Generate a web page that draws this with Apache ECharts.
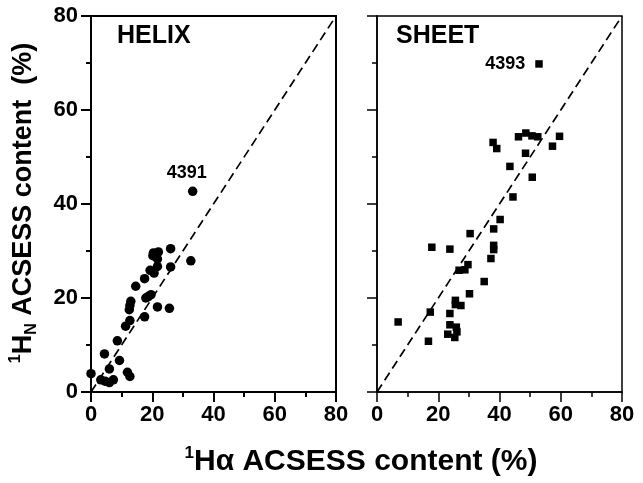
<!DOCTYPE html>
<html>
<head>
<meta charset="utf-8">
<script src="https://cdn.jsdelivr.net/npm/echarts@6/dist/echarts.min.js"></script>
<style>html,body{margin:0;padding:0;background:#fff}#c{width:643px;height:483px}</style>
</head>
<body>
<div id="c"></div>
<script>
// ---- data ----
const panelTitles = ['HELIX', 'SHEET'];
const tickLabels = [0, 20, 40, 60, 80];
const helixPoints = [
  [0,3.9],[4.4,8.1],[3.2,2.6],[4.6,2.3],[6.0,2.0],[7.3,2.6],[6.0,4.9],[9.3,6.7],
  [8.6,10.9],[11.9,4.2],[12.7,3.3],[11.3,14.0],[12.7,15.2],[12.5,17.5],[12.7,18.4],
  [13.0,19.3],[14.6,22.5],[17.5,24.1],[17.5,16.0],[17.9,20.0],[18.7,20.3],[19.6,20.7],
  [19.3,25.9],[20.6,25.3],[21.7,26.7],[21.7,28.3],[20.4,29.6],[20.2,29.0],[22.0,29.8],
  [21.7,18.1],[25.6,17.8],[26.0,30.5],[26.0,26.6],[32.6,27.9]
];
const helixOutlier = [33.2, 42.7];
const helixOutlierLabel = '4391';
const sheetPoints = [
  [37.9,53.1],[39.1,51.8],[46.2,54.3],[48.6,55.1],[50.6,54.5],[52.5,54.3],[57.3,52.3],
  [59.6,54.4],[48.5,50.8],[43.4,48.0],[50.7,45.7],[44.4,41.5],[40.2,36.7],[38.1,34.7],
  [30.4,33.7],[38.1,31.2],[38.1,30.3],[37.2,28.4],[17.9,30.8],[23.8,30.4],[29.7,27.1],
  [28.7,26.0],[26.8,25.9],[35.0,23.5],[30.2,20.9],[25.6,19.5],[25.6,18.6],[27.4,18.4],
  [17.4,17.0],[23.8,16.7],[6.9,14.9],[23.8,14.3],[25.9,13.8],[23.1,12.3],[26.1,12.8],
  [25.4,11.6],[16.8,10.8]
];
const sheetOutlier = [52.9, 69.8];
const sheetOutlierLabel = '4393';
const identityLine = [[0,0],[80,80]];

// ---- chart ----
const FONT = "'Liberation Sans', Arial, Helvetica, sans-serif";
const chart = echarts.init(document.getElementById('c'), null, {renderer: 'canvas'});

function xAxis(idx, lw) {
  return {
    type: 'value', gridIndex: idx, min: 0, max: 80, interval: 20,
    axisLine: {show: true, onZero: false, lineStyle: {color: '#000', width: lw}},
    axisTick: {show: true, inside: false, length: 10, lineStyle: {color: '#000', width: lw}},
    minorTick: {show: true, splitNumber: 2, length: 5, lineStyle: {color: '#000', width: lw}},
    splitLine: {show: false}, minorSplitLine: {show: false},
    axisLabel: {show: true, margin: 12, color: '#000', fontSize: 22, fontWeight: 'bold', fontFamily: FONT,
      formatter: v => tickLabels.includes(v) ? String(v) : ''}
  };
}
function yAxis(idx, lw, showLabels) {
  return {
    type: 'value', gridIndex: idx, min: 0, max: 80, interval: 20,
    axisLine: {show: true, onZero: false, lineStyle: {color: '#000', width: lw}},
    axisTick: {show: true, inside: false, length: 10, lineStyle: {color: '#000', width: lw}},
    minorTick: {show: true, splitNumber: 2, length: 5, lineStyle: {color: '#000', width: lw}},
    splitLine: {show: false}, minorSplitLine: {show: false},
    axisLabel: {show: showLabels, margin: 13, color: '#000', fontSize: 22, fontWeight: 'bold', fontFamily: FONT,
      formatter: v => tickLabels.includes(v) ? String(v) : ''}
  };
}

const option = {
  backgroundColor: '#fff',
  animation: false,
  grid: [
    {left: 91, top: 16, width: 245, height: 376, show: true, borderColor: '#000', borderWidth: 2, backgroundColor: 'transparent'},
    {left: 377, top: 16, width: 245, height: 376, show: true, borderColor: '#000', borderWidth: 1.5, backgroundColor: 'transparent'}
  ],
  xAxis: [xAxis(0, 2), xAxis(1, 1.5)],
  yAxis: [yAxis(0, 2, true), yAxis(1, 1.5, false)],
  graphic: [
    {type: 'text', left: 117, top: 24, style: {text: panelTitles[0], font: 'bold 25px ' + FONT, fill: '#000'}},
    {type: 'text', left: 396, top: 24, style: {text: panelTitles[1], font: 'bold 25px ' + FONT, fill: '#000'}},
    {type: 'text', x: 361, y: 462, style: {
      text: '{sup|1}{b|H\u03b1 ACSESS content (%)}',
      align: 'center', verticalAlign: 'middle',
      rich: {
        b: {fontSize: 30, fontWeight: 'bold', fontFamily: FONT, fill: '#000', lineHeight: 34},
        sup: {fontSize: 17, fontWeight: 'bold', fontFamily: FONT, fill: '#000', lineHeight: 17, verticalAlign: 'top'}
      }
    }},
    {type: 'text', x: 24, y: 203, rotation: Math.PI / 2, style: {
      text: '{sup|1}{b|H}{sub|N}{b| ACSESS content  (%)}',
      align: 'center', verticalAlign: 'middle',
      rich: {
        b: {fontSize: 27, fontWeight: 'bold', fontFamily: FONT, fill: '#000', lineHeight: 32},
        sup: {fontSize: 16, fontWeight: 'bold', fontFamily: FONT, fill: '#000', lineHeight: 16, verticalAlign: 'top'},
        sub: {fontSize: 16, fontWeight: 'bold', fontFamily: FONT, fill: '#000', lineHeight: 16, verticalAlign: 'bottom'}
      }
    }}
  ],
  series: [
    {type: 'line', xAxisIndex: 0, yAxisIndex: 0, data: identityLine, symbol: 'none', silent: true,
      lineStyle: {color: '#000', width: 1.7, type: [9, 5]}},
    {type: 'line', xAxisIndex: 1, yAxisIndex: 1, data: identityLine, symbol: 'none', silent: true,
      lineStyle: {color: '#000', width: 1.7, type: [9, 5]}},
    {type: 'scatter', xAxisIndex: 0, yAxisIndex: 0, symbol: 'circle', symbolSize: 9.5,
      itemStyle: {color: '#000', opacity: 1},
      data: helixPoints.concat([{value: helixOutlier, label: {show: true, formatter: helixOutlierLabel,
        position: 'top', offset: [-6, 0], distance: 5, color: '#000', fontSize: 18, fontWeight: 'bold', fontFamily: FONT}}])},
    {type: 'scatter', xAxisIndex: 1, yAxisIndex: 1, symbol: 'rect', symbolSize: 7.5,
      itemStyle: {color: '#000', opacity: 1},
      data: sheetPoints.concat([{value: sheetOutlier, label: {show: true, formatter: sheetOutlierLabel,
        position: 'left', distance: 10, color: '#000', fontSize: 18, fontWeight: 'bold', fontFamily: FONT}}])}
  ]
};
chart.setOption(option);
</script>
</body>
</html>
